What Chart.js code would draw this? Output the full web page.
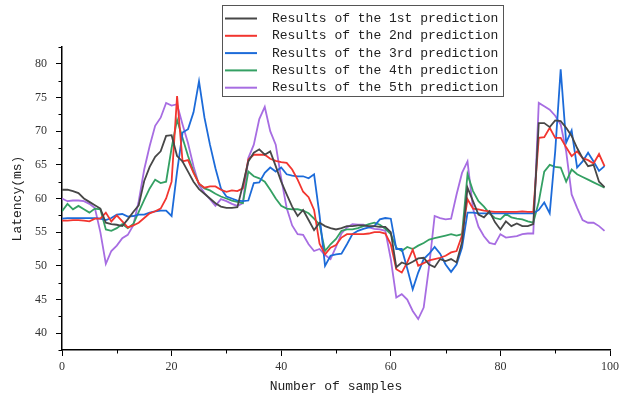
<!DOCTYPE html>
<html lang="en">
<head>
    <meta charset="UTF-8">
    <title>Latency prediction results</title>
    <script src="https://cdn.jsdelivr.net/npm/chart.js"></script>
    <style>
        body { margin: 0; background: white; }
        canvas { display: block; }
    </style>
</head>
<body>
    <canvas id="latencyChart" width="623" height="398"></canvas>

    <script>
        // values, one per sample (0..99)
        const seriesNames = ["Results of the 1st prediction", "Results of the 2nd prediction", "Results of the 3rd prediction", "Results of the 4th prediction", "Results of the 5th prediction"];

        const pred1 = [61.3, 61.3, 61.1, 60.8, 60.0, 59.5, 59.0, 58.5, 56.4, 56.2, 56.1, 55.9, 56.9, 58.0, 59.0, 62.6, 64.7, 66.2, 67.0, 69.3,
            69.4, 66.3, 65.5, 64.0, 62.5, 61.4, 60.7, 60.0, 59.3, 58.8, 58.6, 58.6, 58.7, 62.0, 65.5, 66.8, 67.3, 66.5, 67.0, 64.8,
            62.5, 60.6, 58.8, 57.4, 58.3, 56.8, 55.3, 56.4, 55.9, 55.6, 55.4, 55.6, 55.9, 55.9, 56.0, 56.0, 55.9, 55.9, 55.8, 55.8,
            55.0, 49.8, 50.5, 50.2, 50.6, 51.1, 51.2, 50.2, 49.8, 51.0, 50.7, 51.0, 50.5, 53.5, 61.6, 59.6, 57.6, 57.2, 58.1, 56.5,
            55.4, 56.6, 55.9, 56.3, 55.9, 55.9, 56.2, 71.2, 71.2, 70.6, 71.6, 71.5, 70.5, 69.3, 67.5, 66.0, 64.8, 65.0, 62.5, 61.7];

        const pred2 = [56.7, 56.7, 56.8, 56.8, 56.7, 56.6, 57.0, 57.0, 57.9, 56.6, 57.5, 56.6, 55.7, 56.0, 56.4, 57.1, 57.8, 58.1, 58.5, 60.0,
            62.5, 75.2, 65.5, 65.7, 63.8, 62.2, 61.6, 61.8, 61.8, 61.3, 61.0, 61.2, 61.1, 61.5, 65.8, 66.5, 66.5, 66.5, 65.9, 65.6,
            65.4, 65.3, 64.3, 62.8, 61.0, 60.2, 58.3, 53.3, 51.7, 52.7, 53.1, 54.2, 54.7, 54.7, 54.7, 54.7, 54.8, 55.0, 55.0, 54.8,
            53.2, 49.5, 49.0, 50.5, 52.4, 50.0, 50.4, 50.8, 51.0, 51.2, 51.5, 52.0, 52.2, 54.5, 59.9, 58.5, 58.4, 58.2, 58.1, 58.0,
            58.0, 58.0, 58.0, 58.0, 58.1, 58.0, 58.0, 69.0, 69.1, 70.5, 69.0, 69.0, 67.6, 66.3, 67.0, 66.0, 65.7, 65.2, 66.6, 64.8];

        const pred3 = [57.0, 57.1, 57.1, 57.1, 57.1, 57.1, 57.1, 57.0, 56.8, 57.1, 57.6, 57.7, 57.3, 57.4, 57.6, 57.6, 57.9, 58.1, 58.2, 58.2,
            57.4, 64.0, 69.8, 70.3, 72.8, 77.4, 72.0, 68.0, 64.5, 61.5, 60.3, 60.0, 59.7, 59.6, 59.7, 62.3, 62.4, 63.8, 64.6, 64.0,
            64.6, 63.6, 63.4, 63.3, 63.3, 63.0, 63.6, 57.5, 50.0, 51.5, 51.7, 51.8, 53.2, 54.7, 55.2, 55.5, 55.7, 55.9, 56.9, 57.1,
            57.0, 52.5, 52.5, 49.6, 46.5, 49.0, 51.0, 51.8, 52.8, 51.8, 50.2, 49.1, 50.2, 52.7, 57.9, 57.9, 57.8, 57.8, 57.8, 57.8,
            57.8, 57.8, 57.8, 57.8, 57.8, 57.8, 57.8, 58.3, 59.4, 57.8, 67.0, 79.2, 68.3, 70.1, 64.6, 65.5, 66.8, 65.5, 64.1, 64.8];

        const pred4 = [58.1, 59.2, 58.4, 58.9, 58.4, 57.9, 58.5, 58.4, 55.4, 55.2, 55.6, 56.2, 55.6, 56.2, 58.0, 59.8, 61.5, 62.8, 62.3, 62.5,
            67.5, 71.7, 69.0, 66.3, 64.0, 62.2, 61.5, 61.2, 60.7, 60.3, 60.0, 59.7, 59.5, 59.3, 64.0, 63.3, 63.0, 62.5, 61.3, 60.0,
            58.9, 58.5, 58.4, 58.4, 58.2, 57.8, 57.0, 56.1, 52.2, 53.2, 54.0, 55.2, 55.4, 55.4, 55.6, 55.9, 56.2, 56.4, 56.1, 55.5,
            54.7, 52.7, 52.2, 52.8, 52.5, 53.0, 53.4, 53.9, 54.1, 54.3, 54.5, 54.7, 54.5, 54.7, 63.6, 61.1, 59.6, 58.8, 57.8, 57.1,
            56.9, 57.7, 57.2, 57.0, 56.9, 56.6, 56.4, 59.5, 64.0, 65.0, 64.7, 64.6, 62.5, 64.3, 63.6, 63.2, 62.8, 62.4, 62.0, 61.6];

        const pred5 = [60.0, 59.6, 59.7, 59.7, 59.6, 59.2, 58.6, 55.0, 50.3, 52.2, 53.0, 54.1, 54.6, 56.0, 59.6, 64.3, 67.8, 70.8, 72.0, 74.2,
            73.8, 74.0, 71.0, 68.2, 64.8, 62.0, 60.8, 59.9, 58.9, 59.9, 59.6, 59.2, 58.9, 59.3, 66.0, 68.0, 71.8, 73.6, 70.0, 68.0,
            63.0, 58.6, 56.0, 54.7, 54.6, 53.2, 52.2, 52.5, 51.6, 51.0, 52.8, 54.8, 55.7, 56.2, 56.1, 56.1, 55.7, 55.5, 55.4, 55.2,
            51.0, 45.3, 45.8, 45.0, 43.3, 42.1, 43.8, 50.0, 57.4, 57.1, 56.9, 57.0, 60.6, 63.8, 65.5, 58.5, 55.8, 54.4, 53.4, 53.2,
            54.7, 54.2, 54.3, 54.4, 54.7, 54.8, 54.8, 74.2, 73.7, 73.2, 72.3, 71.0, 67.0, 60.6, 58.6, 56.8, 56.4, 56.4, 55.9, 55.2];

        const yTicksLabeled = [40, 45, 50, 55, 60, 65, 70, 75, 80];
        const xTicksLabeled = [0, 20, 40, 60, 80, 100];

        const lineColors = ["#474747", "#f2352f", "#1c6bd9", "#34a063", "#a76de2"];
        const allSeries = [pred1, pred2, pred3, pred4, pred5];

        const datasets = allSeries.map((values, k) => ({
            label: seriesNames[k],
            data: values.map((v, i) => ({ x: i, y: v })),
            borderColor: lineColors[k],
            backgroundColor: lineColors[k],
            borderWidth: 1.8,
            pointRadius: 0,
            tension: 0,
            fill: false
        }));

        // legend box drawn over the plot, top centre
        const boxLegend = {
            id: "boxLegend",
            afterDraw(chart) {
                const ctx = chart.ctx;
                ctx.save();
                ctx.fillStyle = "#fff";
                ctx.fillRect(222.5, 5.5, 281, 91);
                ctx.strokeStyle = "#555";
                ctx.lineWidth = 1;
                ctx.strokeRect(222.5, 5.5, 281, 91);
                ctx.font = '13px "Liberation Mono"';
                ctx.textBaseline = "middle";
                chart.data.datasets.forEach((ds, i) => {
                    const y = 18.5 + i * 17.3;
                    ctx.strokeStyle = ds.borderColor;
                    ctx.lineWidth = 2;
                    ctx.beginPath();
                    ctx.moveTo(225, y);
                    ctx.lineTo(257, y);
                    ctx.stroke();
                    ctx.fillStyle = "#222";
                    ctx.fillText(ds.label, 272, y);
                });
                ctx.restore();
            }
        };

        // short minor ticks between the labelled ones
        const minorTicks = {
            id: "minorTicks",
            afterDraw(chart) {
                const { ctx, scales: { x, y } } = chart;
                ctx.save();
                ctx.strokeStyle = "#000";
                ctx.lineWidth = 1;
                y.ticks.forEach(t => {
                    if (yTicksLabeled.includes(t.value)) return;
                    const py = Math.round(y.getPixelForValue(t.value)) + 0.5;
                    ctx.beginPath();
                    ctx.moveTo(y.right - 3.5, py);
                    ctx.lineTo(y.right, py);
                    ctx.stroke();
                });
                x.ticks.forEach(t => {
                    if (xTicksLabeled.includes(t.value)) return;
                    const px = Math.round(x.getPixelForValue(t.value)) + 0.5;
                    ctx.beginPath();
                    ctx.moveTo(px, x.top);
                    ctx.lineTo(px, x.top + 3.5);
                    ctx.stroke();
                });
                ctx.restore();
            }
        };

        const tickFont = { family: '"Liberation Serif", serif', size: 12 };
        const titleFont = { family: '"Liberation Mono", monospace', size: 13 };

        new Chart(document.getElementById("latencyChart").getContext("2d"), {
            type: "line",
            data: { datasets: datasets },
            options: {
                responsive: false,
                animation: false,
                layout: { padding: { left: 0, right: 11, top: 47, bottom: 0 } },
                plugins: { legend: { display: false }, tooltip: { enabled: false } },
                scales: {
                    x: {
                        type: "linear",
                        min: 0,
                        max: 100,
                        afterFit: s => { s.height = 48; },
                        border: { display: true, color: "#000", width: 1.5 },
                        grid: {
                            drawOnChartArea: false,
                            tickLength: 6,
                            tickColor: c => (c.tick && xTicksLabeled.includes(c.tick.value)) ? "#000" : "rgba(0,0,0,0)"
                        },
                        ticks: {
                            stepSize: 10,
                            autoSkip: false,
                            maxRotation: 0,
                            padding: 4,
                            color: "#333",
                            font: tickFont,
                            callback: v => xTicksLabeled.includes(v) ? v : ""
                        },
                        title: { display: true, text: "Number of samples", color: "#222", font: titleFont, padding: { top: 0, bottom: 4 } }
                    },
                    y: {
                        min: 37.5,
                        max: 82.5,
                        afterFit: s => { s.width = 62; },
                        border: { display: true, color: "#000", width: 1.5 },
                        grid: {
                            drawOnChartArea: false,
                            tickLength: 6,
                            tickColor: c => (c.tick && yTicksLabeled.includes(c.tick.value)) ? "#000" : "rgba(0,0,0,0)"
                        },
                        ticks: {
                            stepSize: 2.5,
                            autoSkip: false,
                            padding: 9,
                            color: "#333",
                            font: tickFont,
                            callback: v => yTicksLabeled.includes(v) ? v : ""
                        },
                        title: { display: true, text: "Latency(ms)", color: "#222", font: titleFont, padding: { top: 10, bottom: 0 } }
                    }
                }
            },
            plugins: [minorTicks, boxLegend]
        });
    </script>
</body>
</html>
